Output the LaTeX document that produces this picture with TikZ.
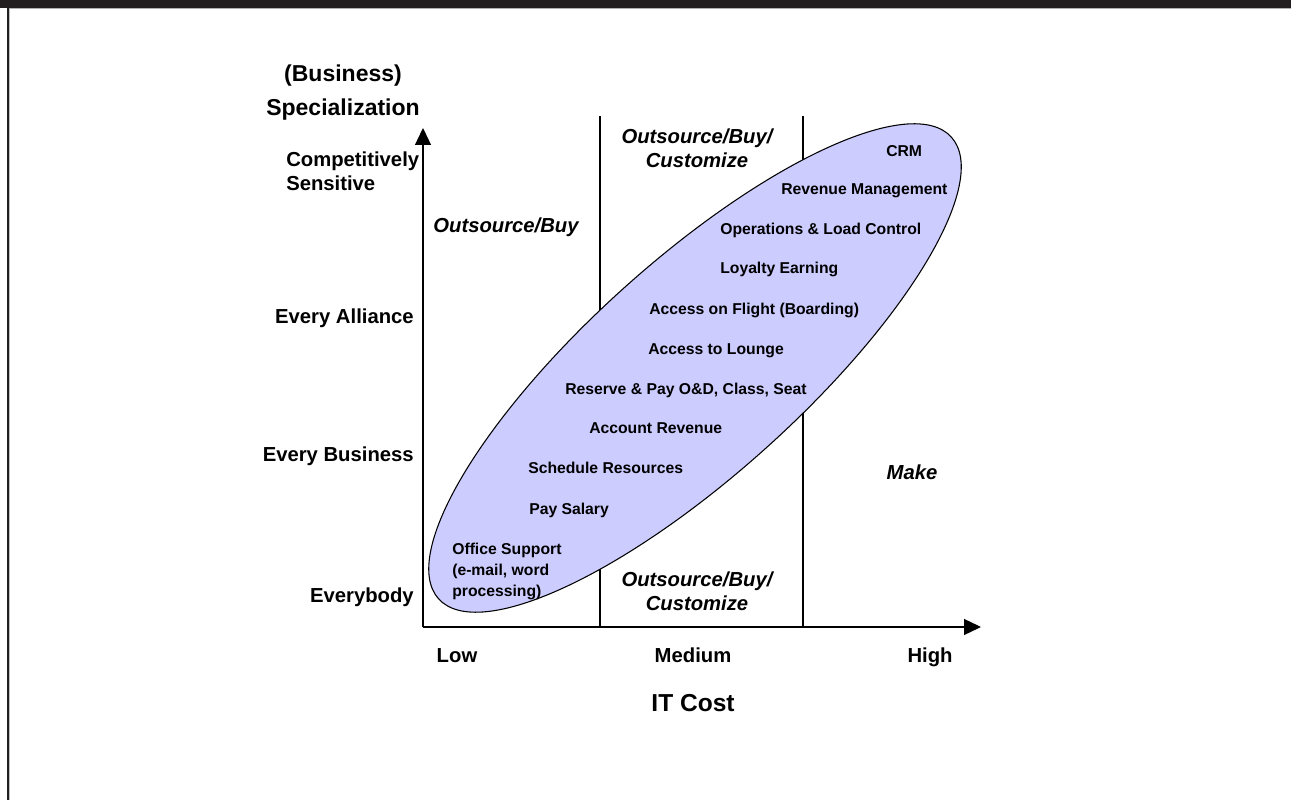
\documentclass[tikz,border=0pt]{standalone}
\usepackage{fontspec}
\setmainfont{Liberation Sans}
\usetikzlibrary{arrows.meta}
\definecolor{barcol}{RGB}{35,31,32}
\definecolor{blobfill}{RGB}{204,204,255}
\begin{document}
\begin{tikzpicture}[x=0.75pt,y=0.75pt,
  axisline/.style={line width=1pt,-{Triangle[length=12.75pt,width=12pt]}},
  divider/.style={line width=1pt},
  title/.style={font=\bfseries\fontsize{17.25}{25.5}\selectfont,inner sep=0pt},
  ticklbl/.style={font=\bfseries\fontsize{15.2}{18}\selectfont,inner sep=0pt},
  region/.style={font=\bfseries\itshape\fontsize{15.2}{18}\selectfont,inner sep=0pt,align=center},
  item/.style={font=\bfseries\fontsize{11.8}{15.75}\selectfont,inner sep=0pt,anchor=base west,align=left}]
\useasboundingbox (0,0) rectangle (1291,800);
% page frame: dark header bar and left rule
\fill[barcol] (0,792) rectangle (1291,800);
\draw[gray!60,line width=0.6pt] (8,791.5) -- (1291,791.5);
\draw[barcol,line width=1.2pt] (8,0) -- (8,792);
\draw[gray!50,line width=0.6pt] (9.8,0) -- (9.8,791);

% axes and column dividers
\coordinate (O) at (423,173);
\coordinate (ytip) at (423,672);
\coordinate (xtip) at (981,173);
\coordinate (d1top) at (600,684);
\coordinate (d1bot) at (600,173);
\coordinate (d2top) at (803,684);
\coordinate (d2bot) at (803,173);
\draw[divider] (d1top) -- (d1bot);
\draw[divider] (d2top) -- (d2bot);

% the application range
\draw[fill=blobfill,line width=0.8pt,rotate around={42:(695,432)}]
  (695,432) ellipse [x radius=345, y radius=107];

\draw[axisline] (O) -- (ytip);
\draw[axisline] (O) -- (xtip);

% axis titles (multi-line nodes sit on the baseline of their last line)
\node[title,align=center,anchor=base] (ytitle) at (343,684) {(Business)\\Specialization};
\node[font=\bfseries\fontsize{18.4}{22}\selectfont,inner sep=0pt,anchor=base] (xtitle) at (693,89) {IT Cost};

% vertical scale
\node[ticklbl,align=left,anchor=base west] (cs) at (286,609) {Competitively\\Sensitive};
\node[ticklbl,anchor=base east] (ea) at (414,476) {Every Alliance};
\node[ticklbl,anchor=base east] (eb) at (414,338) {Every Business};
\node[ticklbl,anchor=base east] (ev) at (414,198) {Everybody};

% horizontal scale
\node[ticklbl,anchor=base] (low) at (457,138) {Low};
\node[ticklbl,anchor=base] (med) at (693,138) {Medium};
\node[ticklbl,anchor=base] (high) at (930,138) {High};

% sourcing regions
\node[region,anchor=base] (ocTop) at (697,632) {Outsource/Buy/\\Customize};
\node[region,anchor=base] (ocBot) at (697,190) {Outsource/Buy/\\Customize};
\node[region,anchor=base] (ob) at (506,567) {Outsource/Buy};
\node[region,anchor=base] (mk) at (912,320) {Make};

% business functions
\node[item] (crm) at (886,643) {CRM};
\node[item] (rm) at (781,605) {Revenue Management};
\node[item] (olc) at (720,565) {Operations \& Load Control};
\node[item] (le) at (720,526) {Loyalty Earning};
\node[item] (afb) at (649,485) {Access on Flight (Boarding)};
\node[item] (atl) at (648,445) {Access to Lounge};
\node[item] (rp) at (565,405) {Reserve \& Pay O\&D, Class, Seat};
\node[item] (ar) at (589,366) {Account Revenue};
\node[item] (sr) at (528,326) {Schedule Resources};
\node[item] (ps) at (529,286) {Pay Salary};
\node[item] (os) at (452,204) {Office Support\\(e-mail, word\\processing)};
\end{tikzpicture}
\end{document}
